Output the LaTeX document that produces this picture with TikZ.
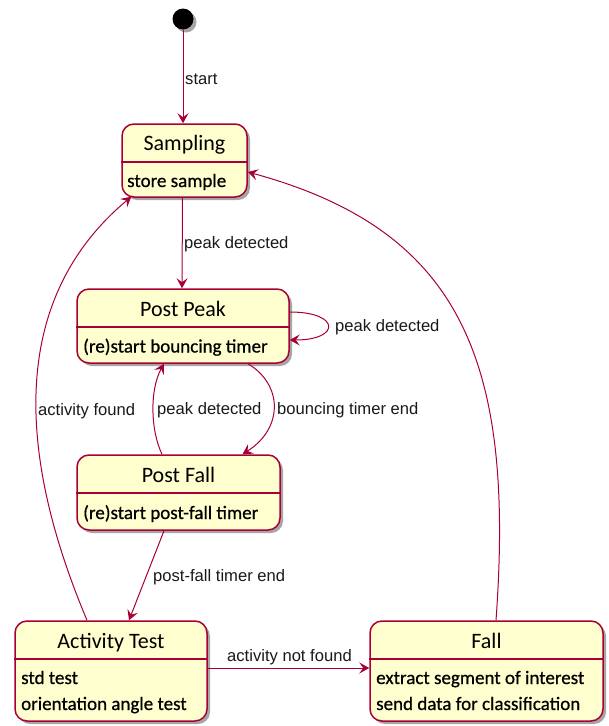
\documentclass[tikz,border=0pt]{standalone}
\usepackage{fontspec}
\newfontfamily\statefont{Carlito}
\newfontfamily\bodyfont[FakeBold=0.6]{Carlito}
\newfontfamily\labelfont{Liberation Sans}
\usetikzlibrary{shadows,arrows.meta,calc}
\definecolor{umlred}{HTML}{A80036}
\definecolor{umlfill}{HTML}{FEFECE}
\begin{document}
\begin{tikzpicture}[x=1pt,y=-1pt,
  statebox/.style={draw=umlred, fill=umlfill, line width=1.5pt, rounded corners=12pt, inner sep=0pt,
    drop shadow={shadow xshift=3pt,shadow yshift=-3pt,opacity=0.35,fill=black}},
  sepline/.style={draw=umlred,line width=1.3pt},
  stitle/.style={font=\statefont\fontsize{22}{26}\selectfont, inner sep=0pt, anchor=base},
  sbody/.style={font=\bodyfont\fontsize{19}{22}\selectfont, inner sep=0pt, anchor=base west},
  elabel/.style={font=\labelfont\fontsize{16.6}{19}\selectfont, inner sep=0pt, anchor=west, text=black!90},
  trans/.style={draw=umlred, line width=1pt, -{Stealth[length=10pt,width=11pt,inset=4pt]}}
]
\useasboundingbox (0,0) rectangle (609,726);

% initial state
\node[circle, fill=black, minimum size=21pt, inner sep=0pt,
  drop shadow={shadow xshift=3pt,shadow yshift=-3pt,opacity=0.35,fill=black}] (init) at (183,19) {};

% states
\node[statebox, minimum width=125pt, minimum height=73pt] (samp) at (184.5,160.5) {};
\draw[sepline] ([yshift=-1.5pt]samp.west) -- ([yshift=-1.5pt]samp.east);
\node[stitle] (sampT) at (184.5,150) {Sampling};
\node[sbody] (sampB) at (127,187) {store sample};

\node[statebox, minimum width=212pt, minimum height=74pt] (pp) at (183,326) {};
\draw[sepline] ([yshift=-1pt]pp.west) -- ([yshift=-1pt]pp.east);
\node[stitle] (ppT) at (183,316) {Post Peak};
\node[sbody] (ppB) at (83,352.5) {(re)start bouncing timer};

\node[statebox, minimum width=203pt, minimum height=75pt] (pf) at (178.5,492.5) {};
\draw[sepline] ([yshift=-0.5pt]pf.west) -- ([yshift=-0.5pt]pf.east);
\node[stitle] (pfT) at (178.5,482) {Post Fall};
\node[sbody] (pfB) at (83,519) {(re)start post-fall timer};

\node[statebox, minimum width=192pt, minimum height=100pt] (at) at (111,671) {};
\draw[sepline] ([yshift=12pt]at.west) -- ([yshift=12pt]at.east);
\node[stitle] (atT) at (111,648) {Activity Test};
\node[sbody] (atB1) at (21,684) {std test};
\node[sbody] (atB2) at (21,710) {orientation angle test};

\node[statebox, minimum width=233pt, minimum height=100pt] (fall) at (486.5,671) {};
\draw[sepline] ([yshift=12pt]fall.west) -- ([yshift=12pt]fall.east);
\node[stitle] (fallT) at (486.5,648) {Fall};
\node[sbody] (fallB1) at (376,684) {extract segment of interest};
\node[sbody] (fallB2) at (376,710) {send data for classification};

% transitions
\draw[trans] (init.south) -- (init.south |- samp.north);
\node[elabel] (lstart) at (185,79) {start};

\draw[trans] ([xshift=-2pt]samp.south) -- ([xshift=-1pt]pp.north);
\node[elabel] (lpeak1) at (184,244) {peak detected};

\draw[trans] ([yshift=14pt]pp.east) .. controls +(51pt,0pt) and +(51pt,0pt) .. ([yshift=-14pt]pp.east);
\node[elabel] (lpeak2) at (335,327) {peak detected};

\draw[trans] ([xshift=65pt]pp.south) .. controls +(35pt,-21pt) and +(41pt,26pt) .. ([xshift=64pt]pf.north);
\node[elabel] (lbounce) at (277,410) {bouncing timer end};

\draw[trans] ([xshift=-16.5pt]pf.north) .. controls +(-12pt,25pt) and +(-14pt,-25pt) .. ([xshift=-19pt]pp.south);
\node[elabel] (lpeak3) at (157,410) {peak detected};

\draw[trans] ([xshift=-14.5pt]pf.south) -- ([xshift=18pt]at.north);
\node[elabel] (lpostfall) at (153,577) {post-fall timer end};

\draw[trans] ([xshift=-24pt]at.north) .. controls +(-80pt,190pt) and +(-110pt,-92pt) .. ([xshift=10pt,yshift=1pt]samp.south west);
\node[elabel] (lactfound) at (38,411) {activity found};

\draw[trans] ([yshift=3pt]at.east) -- ([yshift=3pt]fall.west);
\node[elabel] (lnotfound) at (227,657) {activity not found};

\draw[trans] ([xshift=9.5pt]fall.north) .. controls +(19pt,260pt) and +(213pt,-58pt) .. ([yshift=-11.5pt]samp.east);
\end{tikzpicture}
\end{document}
